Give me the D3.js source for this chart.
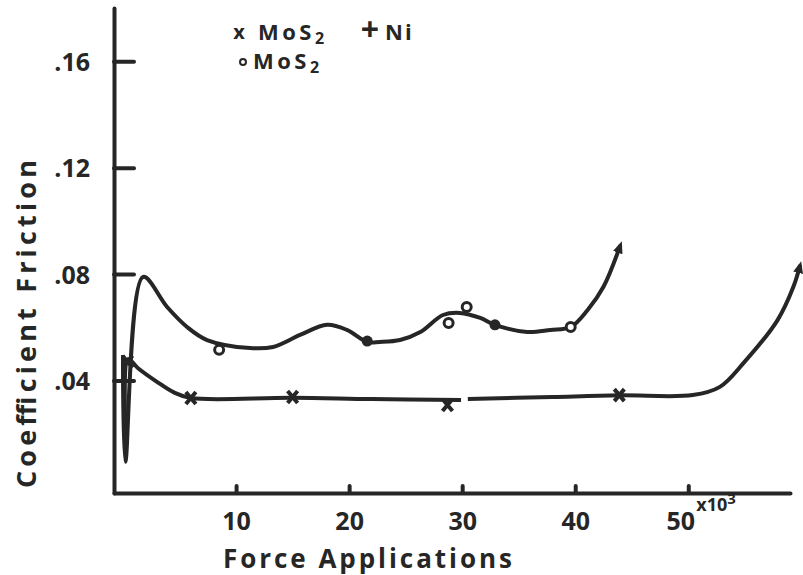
<!DOCTYPE html>
<html>
<head>
<meta charset="utf-8">
<script src="https://cdn.jsdelivr.net/npm/d3@7"></script>
<style>
  body { margin: 0; background: #fff; }
  svg { display: block; font-family: "Open Sans", sans-serif; font-weight: 700; }
</style>
</head>
<body>
<svg id="chart" width="803" height="575"></svg>
<script>
// tick values
const xTicks = [10, 20, 30, 40, 50];
const yTicks = [0.04, 0.08, 0.12, 0.16];

// MoS2 + Ni : hand drawn curve (null = break in the pen line) and the measured x points
const niCurve = [
  [0.0, .049], [0.2, .0176], [0.45, .048], [1.3, .0447], [3.0, .0395], [4.5, .0355], [6.0, .0334],
  [15.0, .0335], [22.0, .0330], [29.9, .0327], null,
  [30.5, .0330], [38.0, .0338], [43.9, .0344], [50.4, .0345], [52.8, .0376],
  [54.9, .0466], [57.9, .0627], [59.3, .0752], [59.9, .0834]
];
const niPoints = [[0.4, .047], [6.0, .0334], [15.0, .0338], [28.7, .0308], [43.9, .0345]];

// MoS2 : hand drawn curve, open circles and filled dots
const mosCurve = [
  [0.0, .0496], [0.2, .0094], [1.77, .0789], [3.9, .0676], [5.66, .0601], [7.43, .0552],
  [11.24, .0522], [13.27, .0526], [15.66, .0571], [18.05, .0609], [19.8, .0590],
  [21.6, .0545], [22.7, .0545], [24.5, .0552], [26.3, .0582], [28.3, .0646], [29.8, .0654],
  [31.6, .0635], [32.9, .0609], [35.75, .0582], [37.8, .0590], [39.6, .0601],
  [41.1, .0665], [42.5, .0752], [44.0, .0909]
];
const mosOpen = [[8.5, .0515], [28.8, .0616], [30.4, .0676], [39.6, .0601]];
const mosFilled = [[21.6, .0548], [32.9, .0609]];

const ink = '#262626';

const svg = d3.select('#chart');

// scales
const x = d3.scaleLinear().domain([-0.8, 59]).range([114, 790]);
const y = d3.scaleLinear().domain([-0.0023, 0.18]).range([493, 8]);

// arrow head for the curve ends
svg.append('defs').append('marker')
    .attr('id', 'arrow')
    .attr('markerUnits', 'userSpaceOnUse')
    .attr('viewBox', '0 -6 12 12')
    .attr('refX', 8)
    .attr('refY', 0)
    .attr('markerWidth', 12)
    .attr('markerHeight', 12)
    .attr('orient', 'auto')
  .append('path')
    .attr('d', 'M0,-5L12,0L0,5Z')
    .attr('fill', ink);

// y axis (ticks point into the plot, labels on the left)
const yAxis = d3.axisLeft(y)
    .tickValues(yTicks)
    .tickSizeInner(-20)
    .tickSizeOuter(0)
    .tickPadding(24)
    .tickFormat(d => d.toFixed(2).slice(1));
const gy = svg.append('g')
    .attr('transform', `translate(${x(-0.8)},0)`)
    .call(yAxis);

// x axis (small ticks pointing up)
const xAxis = d3.axisBottom(x)
    .tickValues(xTicks)
    .tickSizeInner(-7)
    .tickSizeOuter(0)
    .tickPadding(19);
const gx = svg.append('g')
    .attr('transform', `translate(0,${y(-0.0023)})`)
    .call(xAxis);

[gx, gy].forEach(g => {
  g.selectAll('path, line').attr('stroke', ink).attr('stroke-width', 4).attr('stroke-linecap', 'round');
  g.selectAll('text').attr('fill', ink).attr('font-family', '"Open Sans", sans-serif')
    .attr('font-weight', 700).attr('font-size', 25);
});
gy.selectAll('text').attr('dy', '0.36em');
// the 50 label sits a little left of its tick in the original
gx.selectAll('.tick text').filter(d => d === 50).attr('x', -8);

// the x10^3 beside 50
svg.append('text')
    .attr('x', x(50) + 8)
    .attr('y', 511)
    .attr('font-size', 18)
    .attr('fill', ink)
    .text('x10')
  .append('tspan')
    .attr('dy', -7)
    .attr('font-size', 15)
    .text('3');

// axis titles
svg.append('text')
    .attr('x', 223)
    .attr('y', 568)
    .attr('font-size', 26)
    .attr('fill', ink)
    .attr('textLength', 289)
    .attr('lengthAdjust', 'spacing')
    .text('Force  Applications');

svg.append('text')
    .attr('transform', 'translate(36,488) rotate(-90)')
    .attr('font-size', 27)
    .attr('fill', ink)
    .attr('textLength', 328)
    .attr('lengthAdjust', 'spacing')
    .text('Coefficient  Friction');

// curves
const line = d3.line()
    .defined(d => d)
    .x(d => x(d[0]))
    .y(d => y(d[1]))
    .curve(d3.curveCatmullRom.alpha(0.5));

svg.append('path')
    .datum(mosCurve)
    .attr('d', line)
    .attr('fill', 'none')
    .attr('stroke', ink)
    .attr('stroke-width', 4)
    .attr('stroke-linejoin', 'round')
    .attr('marker-end', 'url(#arrow)');

svg.append('path')
    .datum(niCurve)
    .attr('d', line)
    .attr('fill', 'none')
    .attr('stroke', ink)
    .attr('stroke-width', 4)
    .attr('stroke-linejoin', 'round')
    .attr('marker-end', 'url(#arrow)');

// markers
svg.selectAll('.ni')
    .data(niPoints)
    .enter().append('path')
    .attr('class', 'ni')
    .attr('transform', d => `translate(${x(d[0])},${y(d[1])})`)
    .attr('d', 'M-5,-6L5,6M5,-6L-5,6')
    .attr('stroke', ink)
    .attr('stroke-width', 4)
    .attr('fill', 'none');

svg.selectAll('.mos-open')
    .data(mosOpen)
    .enter().append('circle')
    .attr('class', 'mos-open')
    .attr('cx', d => x(d[0]))
    .attr('cy', d => y(d[1]))
    .attr('r', 4.5)
    .attr('fill', '#fff')
    .attr('stroke', ink)
    .attr('stroke-width', 3);

svg.selectAll('.mos-filled')
    .data(mosFilled)
    .enter().append('circle')
    .attr('class', 'mos-filled')
    .attr('cx', d => x(d[0]))
    .attr('cy', d => y(d[1]))
    .attr('r', 5.5)
    .attr('fill', ink);

// legend
const legend = svg.append('g').attr('fill', ink);
legend.append('text')
    .attr('x', 239).attr('y', 39)
    .attr('text-anchor', 'middle')
    .attr('font-size', 20)
    .text('x');
legend.append('text')
    .attr('x', 258).attr('y', 40)
    .attr('font-size', 22)
    .attr('letter-spacing', 3.5)
    .text('MoS')
  .append('tspan')
    .attr('dy', 4).attr('font-size', 16).text('2');
legend.append('text')
    .attr('x', 370).attr('y', 41)
    .attr('text-anchor', 'middle')
    .attr('font-size', 32)
    .attr('font-weight', 700)
    .text('+');
legend.append('text')
    .attr('x', 385).attr('y', 40)
    .attr('font-size', 22)
    .attr('letter-spacing', 2)
    .text('Ni');

legend.append('circle')
    .attr('cx', 243).attr('cy', 62)
    .attr('r', 3)
    .attr('fill', 'none')
    .attr('stroke', ink)
    .attr('stroke-width', 2);
legend.append('text')
    .attr('x', 253).attr('y', 69)
    .attr('font-size', 22)
    .attr('letter-spacing', 3.5)
    .text('MoS')
  .append('tspan')
    .attr('dy', 4).attr('font-size', 16).text('2');
</script>
</body>
</html>
